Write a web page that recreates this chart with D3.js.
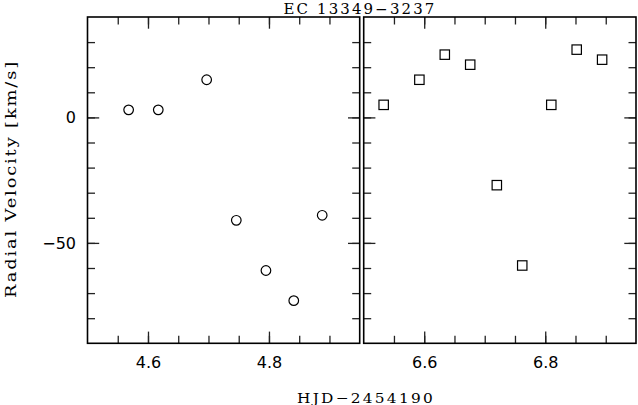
<!DOCTYPE html>
<html>
<head>
<meta charset="utf-8">
<script src="https://cdn.jsdelivr.net/npm/d3@7/dist/d3.min.js"></script>
<style>
  html, body { margin: 0; padding: 0; background: #fff; }
  svg { display: block; }
</style>
</head>
<body>
<script>
// ---- data ----
const leftHJD = [4.568, 4.617, 4.697, 4.746, 4.795, 4.841, 4.888];
const leftRV  = [3, 3, 15, -41, -61, -73, -39];
const rightHJD = [6.533, 6.592, 6.634, 6.676, 6.720, 6.762, 6.810, 6.852, 6.894];
const rightRV  = [5, 15, 25, 21, -27, -59, 5, 27, 23];

const leftDomain = [4.5, 4.95];
const rightDomain = [6.5, 6.95];
const yDomain = [-90, 40];

const leftMajorTicks = [4.6, 4.8];
const leftMinorTicks = [4.55, 4.6, 4.65, 4.7, 4.75, 4.8, 4.85, 4.9];
const rightMajorTicks = [6.6, 6.8];
const rightMinorTicks = [6.55, 6.6, 6.65, 6.7, 6.75, 6.8, 6.85, 6.9];
const yMajorTicks = [-50, 0];
const yMinorTicks = [-80, -70, -60, -50, -40, -30, -20, -10, 0, 10, 20, 30];

const titleText = "EC 13349\u22123237";
const xLabelText = "HJD\u22122454190";
const yLabelText = "Radial Velocity [km/s]";

// ---- layout ----
const W = 638, H = 405;
const plotTop = 17, plotBottom = 343.3;
const panels = [
  { x0: 87.5, x1: 359.7, domain: leftDomain, major: leftMajorTicks, minor: leftMinorTicks, hjd: leftHJD, rv: leftRV, marker: "circle", yLabels: true },
  { x0: 363.7, x1: 636, domain: rightDomain, major: rightMajorTicks, minor: rightMinorTicks, hjd: rightHJD, rv: rightRV, marker: "square", yLabels: false }
];
const majorLen = 11.7, minorLen = 7.5;
const tickFont = "'DejaVu Sans', sans-serif";
const serifFont = "'DejaVu Serif', serif";

const svg = d3.select("body").append("svg").attr("width", W).attr("height", H);

const y = d3.scaleLinear().domain(yDomain).range([plotBottom, plotTop]);
const fmt = d => (d < 0 ? "\u2212" + Math.abs(d) : String(d));

function styleAxis(g, withText) {
  g.select(".domain").remove();
  g.selectAll(".tick line").attr("stroke", "#222").attr("stroke-width", 1.3);
  if (withText) {
    g.selectAll(".tick text").attr("font-family", tickFont).attr("font-size", 16).attr("fill", "#000");
  } else {
    g.selectAll(".tick text").remove();
  }
}

panels.forEach(p => {
  const x = d3.scaleLinear().domain(p.domain).range([p.x0, p.x1]);
  const g = svg.append("g");

  g.append("g").attr("transform", `translate(0,${plotBottom})`)
    .call(d3.axisBottom(x).tickValues(p.minor).tickSizeInner(-minorLen).tickSizeOuter(0).tickFormat(""))
    .call(a => styleAxis(a, false));
  g.append("g").attr("transform", `translate(0,${plotBottom})`)
    .call(d3.axisBottom(x).tickValues(p.major).tickSizeInner(-majorLen).tickSizeOuter(0).tickPadding(13).tickFormat(d3.format(".1f")))
    .call(a => styleAxis(a, true));
  g.append("g").attr("transform", `translate(0,${plotTop})`)
    .call(d3.axisTop(x).tickValues(p.minor).tickSizeInner(-minorLen).tickSizeOuter(0).tickFormat(""))
    .call(a => styleAxis(a, false));
  g.append("g").attr("transform", `translate(0,${plotTop})`)
    .call(d3.axisTop(x).tickValues(p.major).tickSizeInner(-majorLen).tickSizeOuter(0).tickFormat(""))
    .call(a => styleAxis(a, false));
  g.append("g").attr("transform", `translate(${p.x0},0)`)
    .call(d3.axisLeft(y).tickValues(yMinorTicks).tickSizeInner(-minorLen).tickSizeOuter(0).tickFormat(""))
    .call(a => styleAxis(a, false));
  g.append("g").attr("transform", `translate(${p.x0},0)`)
    .call(d3.axisLeft(y).tickValues(yMajorTicks).tickSizeInner(-majorLen).tickSizeOuter(0).tickPadding(11.5).tickFormat(p.yLabels ? fmt : ""))
    .call(a => styleAxis(a, p.yLabels));
  g.append("g").attr("transform", `translate(${p.x1},0)`)
    .call(d3.axisRight(y).tickValues(yMinorTicks).tickSizeInner(-minorLen).tickSizeOuter(0).tickFormat(""))
    .call(a => styleAxis(a, false));
  g.append("g").attr("transform", `translate(${p.x1},0)`)
    .call(d3.axisRight(y).tickValues(yMajorTicks).tickSizeInner(-majorLen).tickSizeOuter(0).tickFormat(""))
    .call(a => styleAxis(a, false));

  g.append("rect").attr("x", p.x0).attr("y", plotTop)
    .attr("width", p.x1 - p.x0).attr("height", plotBottom - plotTop)
    .attr("fill", "none").attr("stroke", "#000").attr("stroke-width", 1.6);

  const pts = p.hjd.map((h, i) => ({ h, v: p.rv[i] }));
  if (p.marker === "circle") {
    g.selectAll("circle.pt").data(pts).enter().append("circle")
      .attr("class", "pt")
      .attr("cx", d => x(d.h)).attr("cy", d => y(d.v)).attr("r", 4.8)
      .attr("fill", "none").attr("stroke", "#000").attr("stroke-width", 1.2);
  } else {
    const s = 9.4;
    g.selectAll("rect.pt").data(pts).enter().append("rect")
      .attr("class", "pt")
      .attr("x", d => x(d.h) - s / 2).attr("y", d => y(d.v) - s / 2)
      .attr("width", s).attr("height", s)
      .attr("fill", "none").attr("stroke", "#000").attr("stroke-width", 1.2);
  }
});

svg.append("text").attr("x", 360).attr("y", 13.5)
  .attr("text-anchor", "middle").attr("font-family", serifFont).attr("font-size", 14)
  .attr("letter-spacing", 2)
  .attr("textLength", 153).attr("lengthAdjust", "spacingAndGlyphs")
  .text(titleText);

svg.append("text").attr("x", 366).attr("y", 402.5)
  .attr("text-anchor", "middle").attr("font-family", serifFont).attr("font-size", 13.5)
  .attr("letter-spacing", 2)
  .attr("textLength", 138).attr("lengthAdjust", "spacingAndGlyphs")
  .text(xLabelText);

svg.append("text")
  .attr("transform", "translate(15.5,179) rotate(-90)")
  .attr("text-anchor", "middle").attr("font-family", serifFont).attr("font-size", 14.5)
  .attr("letter-spacing", 1.5)
  .attr("textLength", 238).attr("lengthAdjust", "spacingAndGlyphs")
  .text(yLabelText);
</script>
</body>
</html>
